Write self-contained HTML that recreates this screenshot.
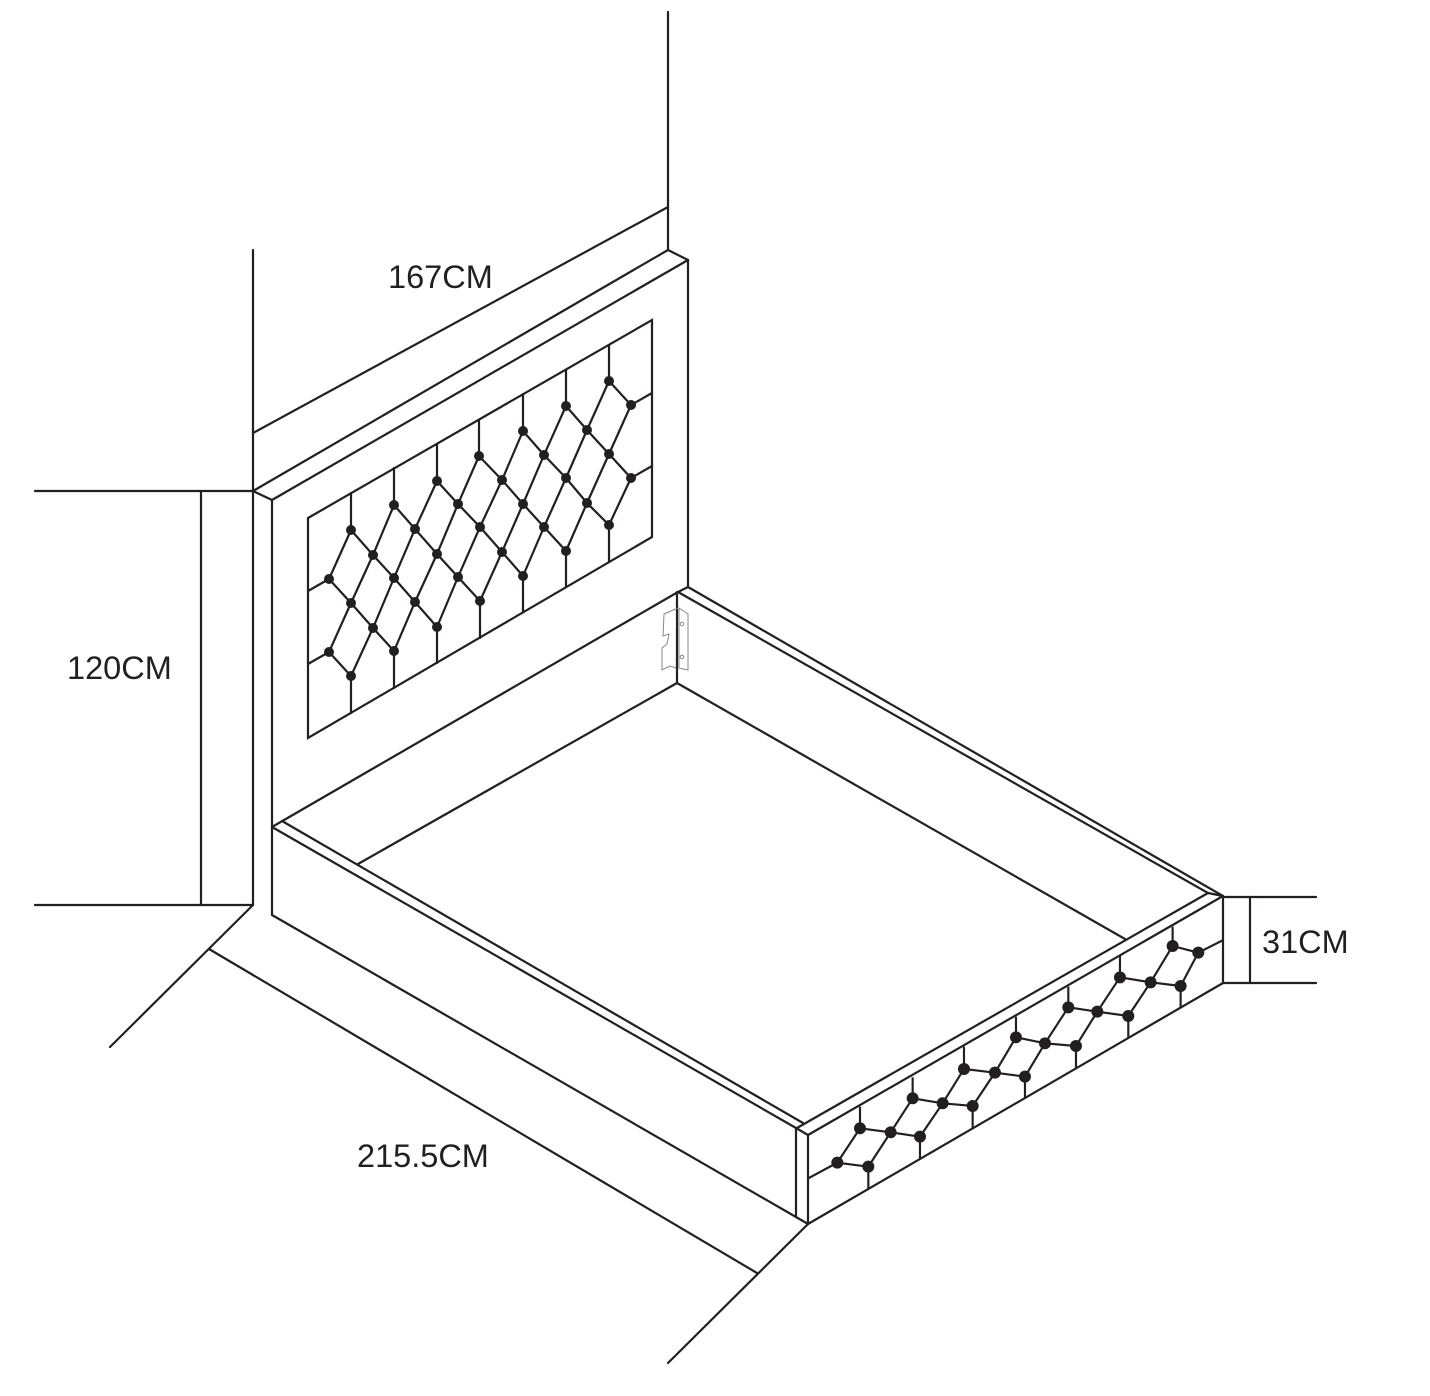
<!DOCTYPE html>
<html><head><meta charset="utf-8"><style>
html,body{margin:0;padding:0;background:#fff;}
svg{display:block;}
text{font-family:"Liberation Sans",sans-serif;font-size:32.5px;fill:#231f20;}
</style></head><body>
<svg width="1430" height="1396" viewBox="0 0 1430 1396" xmlns="http://www.w3.org/2000/svg">
<g stroke="#231f20" stroke-width="2.2" fill="none" stroke-linecap="round">
<line x1="253" y1="250" x2="253" y2="905"/>
<line x1="668" y1="12" x2="668" y2="250"/>
<line x1="253" y1="433" x2="668" y2="207"/>
<line x1="253" y1="491" x2="668" y2="250"/>
<line x1="272" y1="500" x2="688" y2="260"/>
<line x1="253" y1="491" x2="272" y2="500"/>
<line x1="668" y1="250" x2="688" y2="260"/>
<line x1="272" y1="500" x2="272" y2="915"/>
<line x1="688" y1="260" x2="688" y2="587"/>
<line x1="272" y1="827" x2="678" y2="592"/>
<line x1="678" y1="592" x2="688" y2="587"/>
<line x1="677" y1="592" x2="677" y2="683"/>
<polygon points="308,518 652,320 652,537 308,738"/>
<line x1="272" y1="827" x2="796" y2="1128"/>
<line x1="282" y1="821" x2="803" y2="1123"/>
<line x1="688" y1="587" x2="1223" y2="896"/>
<line x1="678" y1="592" x2="1208" y2="893"/>
<line x1="677" y1="683" x2="358" y2="864"/>
<line x1="677" y1="683" x2="1125" y2="939"/>
<line x1="272" y1="915" x2="796" y2="1217"/>
<line x1="796" y1="1128" x2="796" y2="1217"/>
<line x1="808" y1="1135" x2="808" y2="1224"/>
<line x1="796" y1="1128" x2="808" y2="1135"/>
<line x1="796" y1="1217" x2="808" y2="1224"/>
<line x1="797" y1="1128" x2="1208" y2="893"/>
<line x1="808" y1="1135" x2="1223" y2="896"/>
<line x1="1208" y1="893" x2="1223" y2="896"/>
<line x1="1223" y1="896" x2="1223" y2="983"/>
<line x1="808" y1="1224" x2="1223" y2="983"/>
<line x1="253" y1="905" x2="110" y2="1047"/>
<line x1="808" y1="1224" x2="668" y2="1363"/>
<line x1="35" y1="491" x2="253" y2="491"/>
<line x1="35" y1="905" x2="253" y2="905"/>
<line x1="201" y1="491" x2="201" y2="905"/>
<line x1="209" y1="949" x2="757" y2="1273"/>
<line x1="1223" y1="897" x2="1316" y2="897"/>
<line x1="1223" y1="983" x2="1316" y2="983"/>
<line x1="1250" y1="897" x2="1250" y2="983"/>
<polyline points="329,579 351,530"/>
<polyline points="329,652 351,603 373,555 394,505"/>
<polyline points="351,676 373,628 394,578 415,529 437,481"/>
<polyline points="394,651 415,602 437,554 458,504 479,456"/>
<polyline points="437,627 458,577 480,527 502,480 523,431"/>
<polyline points="480,601 502,552 523,504 544,455 566,406"/>
<polyline points="523,576 544,527 566,478 587,430 609,381"/>
<polyline points="566,551 587,503 609,454 631,405"/>
<polyline points="609,525 631,478"/>
<polyline points="351,530 373,555 394,578 415,602 437,627"/>
<polyline points="329,579 351,603 373,628 394,651"/>
<polyline points="329,652 351,676"/>
<polyline points="394,505 415,529 437,554 458,577 480,601"/>
<polyline points="437,481 458,504 480,527 502,552 523,576"/>
<polyline points="479,456 502,480 523,504 544,527 566,551"/>
<polyline points="523,431 544,455 566,478 587,503 609,525"/>
<polyline points="566,406 587,430 609,454 631,478"/>
<polyline points="609,381 631,405"/>
<line x1="351" y1="530" x2="351" y2="493"/>
<line x1="394" y1="505" x2="394" y2="468"/>
<line x1="437" y1="481" x2="437" y2="444"/>
<line x1="479" y1="456" x2="479" y2="420"/>
<line x1="523" y1="431" x2="523" y2="394"/>
<line x1="566" y1="406" x2="566" y2="370"/>
<line x1="609" y1="381" x2="609" y2="345"/>
<line x1="351" y1="676" x2="351" y2="713"/>
<line x1="394" y1="651" x2="394" y2="688"/>
<line x1="437" y1="627" x2="437" y2="663"/>
<line x1="480" y1="601" x2="480" y2="638"/>
<line x1="523" y1="576" x2="523" y2="612"/>
<line x1="566" y1="551" x2="566" y2="587"/>
<line x1="609" y1="525" x2="609" y2="562"/>
<line x1="329" y1="579" x2="308" y2="591"/>
<line x1="329" y1="652" x2="308" y2="664"/>
<line x1="631" y1="405" x2="652" y2="393"/>
<line x1="631" y1="478" x2="652" y2="466"/>
</g>
<g fill="#231f20">
<circle cx="351" cy="530" r="5"/><circle cx="394" cy="505" r="5"/><circle cx="437" cy="481" r="5"/><circle cx="479" cy="456" r="5"/><circle cx="523" cy="431" r="5"/><circle cx="566" cy="406" r="5"/><circle cx="609" cy="381" r="5"/><circle cx="631" cy="405" r="5"/><circle cx="609" cy="454" r="5"/><circle cx="631" cy="478" r="5"/><circle cx="609" cy="525" r="5"/><circle cx="587" cy="430" r="5"/><circle cx="587" cy="503" r="5"/><circle cx="566" cy="478" r="5"/><circle cx="566" cy="551" r="5"/><circle cx="544" cy="455" r="5"/><circle cx="544" cy="527" r="5"/><circle cx="523" cy="504" r="5"/><circle cx="523" cy="576" r="5"/><circle cx="502" cy="480" r="5"/><circle cx="502" cy="552" r="5"/><circle cx="480" cy="527" r="5"/><circle cx="480" cy="601" r="5"/><circle cx="458" cy="504" r="5"/><circle cx="458" cy="577" r="5"/><circle cx="437" cy="554" r="5"/><circle cx="437" cy="627" r="5"/><circle cx="415" cy="529" r="5"/><circle cx="415" cy="602" r="5"/><circle cx="394" cy="578" r="5"/><circle cx="394" cy="651" r="5"/><circle cx="373" cy="555" r="5"/><circle cx="373" cy="628" r="5"/><circle cx="351" cy="603" r="5"/><circle cx="351" cy="676" r="5"/><circle cx="329" cy="579" r="5"/><circle cx="329" cy="652" r="5"/>
</g>
<g transform="translate(780,880) scale(0.3333)">
<g stroke="#231f20" stroke-width="6.5" fill="none">
<polyline points="172,848 265,860"/>
<polyline points="240,745 332,757 420,770"/>
<polyline points="398,655 488,670 578,678"/>
<polyline points="552,567 645,578 735,590"/>
<polyline points="708,472 795,490 888,498"/>
<polyline points="865,382 952,395 1045,408"/>
<polyline points="1020,292 1112,307 1202,318"/>
<polyline points="1178,198 1255,218"/>
<polyline points="172,848 240,745"/>
<polyline points="265,860 332,757 398,655"/>
<polyline points="420,770 488,670 552,567"/>
<polyline points="578,678 645,578 708,472"/>
<polyline points="735,590 795,490 865,382"/>
<polyline points="888,498 952,395 1020,292"/>
<polyline points="1045,408 1112,307 1178,198"/>
<polyline points="1202,318 1255,218"/>
<line x1="240" y1="745" x2="240" y2="680"/>
<line x1="398" y1="655" x2="398" y2="592"/>
<line x1="552" y1="567" x2="552" y2="500"/>
<line x1="708" y1="472" x2="708" y2="410"/>
<line x1="865" y1="382" x2="865" y2="320"/>
<line x1="1020" y1="292" x2="1020" y2="228"/>
<line x1="1178" y1="198" x2="1178" y2="140"/>
<line x1="265" y1="860" x2="265" y2="925"/>
<line x1="420" y1="770" x2="420" y2="835"/>
<line x1="578" y1="678" x2="578" y2="745"/>
<line x1="735" y1="590" x2="735" y2="655"/>
<line x1="888" y1="498" x2="888" y2="565"/>
<line x1="1045" y1="408" x2="1045" y2="475"/>
<line x1="1202" y1="318" x2="1202" y2="382"/>
<line x1="172" y1="848" x2="85" y2="895"/>
<line x1="1255" y1="218" x2="1330" y2="180"/>
</g>
<g fill="#231f20">
<circle cx="172" cy="848" r="18"/><circle cx="265" cy="860" r="18"/><circle cx="240" cy="745" r="18"/><circle cx="332" cy="757" r="18"/><circle cx="420" cy="770" r="18"/><circle cx="398" cy="655" r="18"/><circle cx="488" cy="670" r="18"/><circle cx="578" cy="678" r="18"/><circle cx="552" cy="567" r="18"/><circle cx="645" cy="578" r="18"/><circle cx="735" cy="590" r="18"/><circle cx="708" cy="472" r="18"/><circle cx="795" cy="490" r="18"/><circle cx="888" cy="498" r="18"/><circle cx="865" cy="382" r="18"/><circle cx="952" cy="395" r="18"/><circle cx="1045" cy="408" r="18"/><circle cx="1020" cy="292" r="18"/><circle cx="1112" cy="307" r="18"/><circle cx="1202" cy="318" r="18"/><circle cx="1178" cy="198" r="18"/><circle cx="1255" cy="218" r="18"/>
</g>
</g>
<g stroke="#888" stroke-width="1" fill="none">
<path d="M679,608 L688,614 L688,670 L679,668 Z"/>
<path d="M678,608 L664,614 L663,636 L669,634 L667,644 L662,648 L662,670 L670,666 L676,668"/>
<circle cx="682" cy="624" r="1.8"/><circle cx="682" cy="657" r="1.8"/>
</g>
<text x="388" y="288">167CM</text>
<text x="67" y="679">120CM</text>
<text x="357" y="1167">215.5CM</text>
<text x="1262" y="953">31CM</text>
</svg>
</body></html>
